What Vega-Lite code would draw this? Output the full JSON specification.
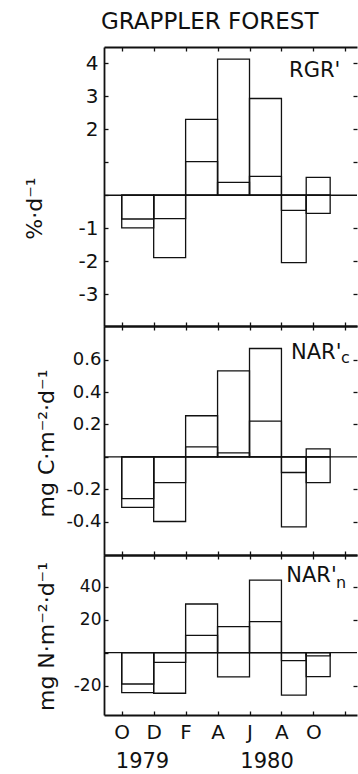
{
  "$schema": "https://vega.github.io/schema/vega-lite/v6.json",
  "padding": {"left": 23, "top": 11, "right": 0, "bottom": 0},
  "background": "white",
  "config": {
    "font": "DejaVu Sans",
    "view": {"stroke": null},
    "axis": {"domainColor": "#111", "tickColor": "#111", "labelColor": "#111", "titleColor": "#111", "grid": false, "tickWidth": 1.3, "domainWidth": 1.8, "titleFontWeight": "normal", "labelFontWeight": "normal", "titleFont": "DejaVu Sans", "labelFont": "DejaVu Sans"}
  },
  "datasets": {
    "bars": [
      {"panel": "RGR", "series": "a", "x0": 0, "x1": 2, "v": -0.72},
      {"panel": "RGR", "series": "b", "x0": 0, "x1": 2, "v": -0.99},
      {"panel": "RGR", "series": "a", "x0": 2, "x1": 4, "v": -0.71},
      {"panel": "RGR", "series": "b", "x0": 2, "x1": 4, "v": -1.89},
      {"panel": "RGR", "series": "a", "x0": 4, "x1": 6, "v": 2.30},
      {"panel": "RGR", "series": "b", "x0": 4, "x1": 6, "v": 1.02},
      {"panel": "RGR", "series": "a", "x0": 6, "x1": 8, "v": 4.12},
      {"panel": "RGR", "series": "b", "x0": 6, "x1": 8, "v": 0.39},
      {"panel": "RGR", "series": "a", "x0": 8, "x1": 10, "v": 2.93},
      {"panel": "RGR", "series": "b", "x0": 8, "x1": 10, "v": 0.57},
      {"panel": "RGR", "series": "a", "x0": 10, "x1": 11.55, "v": -0.46},
      {"panel": "RGR", "series": "b", "x0": 10, "x1": 11.55, "v": -2.04},
      {"panel": "RGR", "series": "a", "x0": 11.55, "x1": 13.05, "v": 0.54},
      {"panel": "RGR", "series": "b", "x0": 11.55, "x1": 13.05, "v": -0.55},
      {"panel": "NARc", "series": "a", "x0": 0, "x1": 2, "v": -0.258},
      {"panel": "NARc", "series": "b", "x0": 0, "x1": 2, "v": -0.313},
      {"panel": "NARc", "series": "a", "x0": 2, "x1": 4, "v": -0.159},
      {"panel": "NARc", "series": "b", "x0": 2, "x1": 4, "v": -0.40},
      {"panel": "NARc", "series": "a", "x0": 4, "x1": 6, "v": 0.254},
      {"panel": "NARc", "series": "b", "x0": 4, "x1": 6, "v": 0.062},
      {"panel": "NARc", "series": "a", "x0": 6, "x1": 8, "v": 0.532},
      {"panel": "NARc", "series": "b", "x0": 6, "x1": 8, "v": 0.025},
      {"panel": "NARc", "series": "a", "x0": 8, "x1": 10, "v": 0.67},
      {"panel": "NARc", "series": "b", "x0": 8, "x1": 10, "v": 0.221},
      {"panel": "NARc", "series": "a", "x0": 10, "x1": 11.55, "v": -0.097},
      {"panel": "NARc", "series": "b", "x0": 10, "x1": 11.55, "v": -0.433},
      {"panel": "NARc", "series": "a", "x0": 11.55, "x1": 13.05, "v": 0.049},
      {"panel": "NARc", "series": "b", "x0": 11.55, "x1": 13.05, "v": -0.159},
      {"panel": "NARn", "series": "a", "x0": 0, "x1": 2, "v": -19.0},
      {"panel": "NARn", "series": "b", "x0": 0, "x1": 2, "v": -24.2},
      {"panel": "NARn", "series": "a", "x0": 2, "x1": 4, "v": -5.9},
      {"panel": "NARn", "series": "b", "x0": 2, "x1": 4, "v": -24.6},
      {"panel": "NARn", "series": "a", "x0": 4, "x1": 6, "v": 29.5},
      {"panel": "NARn", "series": "b", "x0": 4, "x1": 6, "v": 10.5},
      {"panel": "NARn", "series": "a", "x0": 6, "x1": 8, "v": 15.8},
      {"panel": "NARn", "series": "b", "x0": 6, "x1": 8, "v": -14.7},
      {"panel": "NARn", "series": "a", "x0": 8, "x1": 10, "v": 44.0},
      {"panel": "NARn", "series": "b", "x0": 8, "x1": 10, "v": 18.8},
      {"panel": "NARn", "series": "a", "x0": 10, "x1": 11.55, "v": -4.8},
      {"panel": "NARn", "series": "b", "x0": 10, "x1": 11.55, "v": -25.7},
      {"panel": "NARn", "series": "a", "x0": 11.55, "x1": 13.05, "v": -2.0},
      {"panel": "NARn", "series": "b", "x0": 11.55, "x1": 13.05, "v": -14.5}
    ]
  },
  "spacing": 0,
  "bounds": "flush",
  "vconcat": [
    {
      "width": 253,
      "height": 279,
      "title": {"text": "GRAPPLER FOREST", "anchor": "start", "frame": "group", "fontSize": 23, "fontWeight": "normal", "font": "DejaVu Sans", "color": "#111", "dx": -3, "offset": -6, "baseline": "alphabetic"},
      "layer": [
        {
          "data": {"name": "bars"},
          "transform": [{"filter": "datum.panel == 'RGR'"}],
          "mark": {"type": "rect", "fill": "white", "fillOpacity": 0, "stroke": "#111", "strokeWidth": 1.3},
          "encoding": {
            "x": {"field": "x0", "type": "quantitative", "scale": {"domain": [-1.11, 14.73]}, "axis": {"orient": "bottom", "values": [0, 2, 4, 6, 8, 10, 12, 14], "labels": false, "tickSize": -4, "title": null}},
            "x2": {"field": "x1"},
            "y": {"field": "v", "type": "quantitative", "scale": {"domain": [-3.96, 4.49]}, "axis": {"orient": "left", "values": [-3, -2, -1, 0, 1, 2, 3, 4], "labelExpr": "datum.value == 0 || datum.value == 1 ? '' : replace(datum.label, '−', '-')", "tickSize": -4, "labelPadding": 10, "labelFontSize": 20, "title": "%·d⁻¹", "titleFontSize": 22, "titleAngle": -90, "titleAlign": "center", "titleBaseline": "middle", "titleX": -70, "titleY": 161}},
            "y2": {"datum": 0}
          }
        },
        {
          "data": {"values": [{}]},
          "mark": {"type": "rule", "stroke": "#111", "strokeWidth": 1.3},
          "encoding": {
            "y": {"datum": 0, "type": "quantitative", "scale": {"domain": [-3.96, 4.49]}, "axis": {"orient": "right", "values": [-3, -2, -1, 1, 2, 3, 4], "labels": false, "domain": false, "tickSize": -4, "title": null}}
          }
        },
        {
          "data": {"values": [{"m": 10.48, "v": 3.58, "label": "RGR'"}]},
          "mark": {"type": "text", "align": "left", "baseline": "alphabetic", "fontSize": 21, "color": "#111"},
          "encoding": {
            "x": {"field": "m", "type": "quantitative", "scale": {"domain": [-1.11, 14.73]}, "axis": {"orient": "top", "values": [0, 2, 4, 6, 8, 10, 12, 14], "labels": false, "tickSize": -4, "title": null}},
            "y": {"field": "v", "type": "quantitative", "scale": {"domain": [-3.96, 4.49]}, "axis": null},
            "text": {"field": "label"}
          }
        }
      ],
      "resolve": {"axis": {"x": "independent", "y": "independent"}}
    },
    {
      "width": 253,
      "height": 229,
      "layer": [
        {
          "data": {"name": "bars"},
          "transform": [{"filter": "datum.panel == 'NARc'"}],
          "mark": {"type": "rect", "fill": "white", "fillOpacity": 0, "stroke": "#111", "strokeWidth": 1.3},
          "encoding": {
            "x": {"field": "x0", "type": "quantitative", "scale": {"domain": [-1.11, 14.73]}, "axis": {"orient": "bottom", "values": [0, 2, 4, 6, 8, 10, 12, 14], "labels": false, "tickSize": -4, "title": null}},
            "x2": {"field": "x1"},
            "y": {"field": "v", "type": "quantitative", "scale": {"domain": [-0.607, 0.809]}, "axis": {"orient": "left", "values": [-0.4, -0.2, 0, 0.2, 0.4, 0.6], "format": ".1f", "labelExpr": "datum.value == 0 ? '' : replace(datum.label, '−', '-')", "tickSize": -4, "labelPadding": 7, "labelFontSize": 18, "title": "mg C·m⁻²·d⁻¹", "titleFontSize": 22, "titleAngle": -90, "titleAlign": "center", "titleBaseline": "middle", "titleX": -58, "titleY": 117}},
            "y2": {"datum": 0}
          }
        },
        {
          "data": {"values": [{}]},
          "mark": {"type": "rule", "stroke": "#111", "strokeWidth": 1.3},
          "encoding": {
            "y": {"datum": 0, "type": "quantitative", "scale": {"domain": [-0.607, 0.809]}, "axis": {"orient": "right", "values": [-0.4, -0.2, 0.2, 0.4, 0.6], "labels": false, "domain": false, "tickSize": -4, "title": null}}
          }
        },
        {
          "data": {"values": [{"m": 10.6, "v": 0.607, "label": "NAR'", "size": "big"}, {"m": 13.73, "v": 0.58, "label": "c", "size": "small"}]},
          "mark": {"type": "text", "align": "left", "baseline": "alphabetic", "color": "#111"},
          "encoding": {
            "x": {"field": "m", "type": "quantitative", "scale": {"domain": [-1.11, 14.73]}, "axis": {"orient": "top", "values": [0, 2, 4, 6, 8, 10, 12, 14], "labels": false, "tickSize": -4, "title": null}},
            "y": {"field": "v", "type": "quantitative", "scale": {"domain": [-0.607, 0.809]}, "axis": null},
            "text": {"field": "label"},
            "size": {"field": "size", "type": "nominal", "scale": {"domain": ["big", "small"], "range": [21, 16]}, "legend": null}
          }
        }
      ],
      "resolve": {"axis": {"x": "independent", "y": "independent"}}
    },
    {
      "width": 253,
      "height": 160,
      "layer": [
        {
          "data": {"name": "bars"},
          "transform": [{"filter": "datum.panel == 'NARn'"}],
          "mark": {"type": "rect", "fill": "white", "fillOpacity": 0, "stroke": "#111", "strokeWidth": 1.3},
          "encoding": {
            "x": {"field": "x0", "type": "quantitative", "scale": {"domain": [-1.11, 14.73]}, "axis": {"orient": "bottom", "values": [0, 2, 4, 6, 8, 10, 12, 14], "labelExpr": "['O','D','F','A','J','A','O',''][round(datum.value / 2)]", "labelFontSize": 20, "tickSize": -4, "labelPadding": 11, "title": null}},
            "x2": {"field": "x1"},
            "y": {"field": "v", "type": "quantitative", "scale": {"domain": [-37.8, 59.2]}, "axis": {"orient": "left", "values": [-20, 0, 20, 40], "labelExpr": "datum.value == 0 ? '' : replace(datum.label, '−', '-')", "tickSize": -4, "labelPadding": 7, "labelFontSize": 17, "title": "mg N·m⁻²·d⁻¹", "titleFontSize": 22, "titleAngle": -90, "titleAlign": "center", "titleBaseline": "middle", "titleX": -58, "titleY": 81}},
            "y2": {"datum": 0}
          }
        },
        {
          "data": {"values": [{}]},
          "mark": {"type": "rule", "stroke": "#111", "strokeWidth": 1.3},
          "encoding": {
            "y": {"datum": 0, "type": "quantitative", "scale": {"domain": [-37.8, 59.2]}, "axis": {"orient": "right", "values": [-20, 20, 40], "labels": false, "domain": false, "tickSize": -4, "title": null}}
          }
        },
        {
          "data": {"values": [{"m": 10.3, "v": 42.8, "label": "NAR'", "size": "big"}, {"m": 13.42, "v": 39.0, "label": "n", "size": "small"}]},
          "mark": {"type": "text", "align": "left", "baseline": "alphabetic", "color": "#111"},
          "encoding": {
            "x": {"field": "m", "type": "quantitative", "scale": {"domain": [-1.11, 14.73]}, "axis": {"orient": "top", "values": [0, 2, 4, 6, 8, 10, 12, 14], "labels": false, "tickSize": -4, "title": null}},
            "y": {"field": "v", "type": "quantitative", "scale": {"domain": [-37.8, 59.2]}, "axis": null},
            "text": {"field": "label"},
            "size": {"field": "size", "type": "nominal", "scale": {"domain": ["big", "small"], "range": [21, 17]}, "legend": null}
          }
        },
        {
          "data": {"values": [{"m": 1.3, "v": -66.3, "label": "1979"}, {"m": 9.1, "v": -66.3, "label": "1980"}]},
          "mark": {"type": "text", "align": "center", "baseline": "middle", "fontSize": 21, "color": "#111"},
          "encoding": {
            "x": {"field": "m", "type": "quantitative", "scale": {"domain": [-1.11, 14.73]}, "axis": null},
            "y": {"field": "v", "type": "quantitative", "scale": {"domain": [-37.8, 59.2]}, "axis": null},
            "text": {"field": "label"}
          }
        }
      ],
      "resolve": {"axis": {"x": "independent", "y": "independent"}}
    }
  ]
}
